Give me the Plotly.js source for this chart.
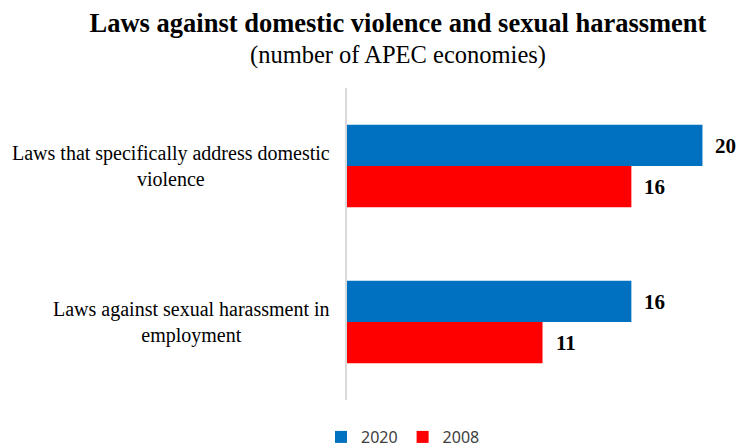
<!DOCTYPE html>
<html>
<head>
<meta charset="utf-8">
<script src="https://cdn.plot.ly/plotly-3.0.1.min.js"></script>
<style>html,body{margin:0;padding:0;background:#fff}#chart{width:738px;height:447px}</style>
</head>
<body>
<div id="chart"></div>
<script>
const categories = ["Laws that specifically address domestic<br>violence", "Laws against sexual harassment in<br>employment"];
const series2020 = [20, 16];
const series2008 = [16, 11];
const seriesNames = ["2020", "2008"];
const colors = ["#0070C0", "#FF0000"];

const SERIF = "Liberation Serif";
const W = 738, H = 447;
const M = {l: 347, r: 0, t: 88, b: 47};
const plotW = W - M.l - M.r, plotH = H - M.t - M.b;

const traces = [
  {type: "bar", orientation: "h", name: seriesNames[0], x: series2020, y: categories,
   marker: {color: colors[0]}, hoverinfo: "x"},
  {type: "bar", orientation: "h", name: seriesNames[1], x: series2008, y: categories,
   marker: {color: colors[1]}, hoverinfo: "x"}
];

const annotations = [];
[series2020, series2008].forEach((vals, si) => {
  vals.forEach((v, i) => {
    annotations.push({
      x: v, y: categories[i], xref: "x", yref: "y",
      text: "<b>" + v + "</b>", showarrow: false, xanchor: "left", yanchor: "middle",
      xshift: 11, yshift: si === 0 ? 20.5 : -20.5,
      font: {family: SERIF, size: 21, color: "#000"}
    });
  });
});
categories.forEach((c, i) => {
  annotations.push({
    x: 0, y: c, xref: "paper", yref: "y", text: c, showarrow: false,
    xanchor: "right", yanchor: "middle", align: "center", xshift: -15,
    font: {family: SERIF, size: 20, color: "#000"}
  });
});
annotations.push({
  x: (398 - M.l) / plotW, y: 1 + (M.t - 55) / plotH, xref: "paper", yref: "paper",
  xanchor: "center", yanchor: "middle",
  text: "(number of APEC economies)", showarrow: false,
  font: {family: SERIF, size: 24.5, color: "#000"}
});

const layout = {
  width: W, height: H,
  margin: M,
  paper_bgcolor: "#fff", plot_bgcolor: "#fff",
  title: {text: "<b>Laws against domestic violence and sexual harassment</b>",
          x: 398 / W, xanchor: "center", xref: "container",
          y: 1 - 23 / H, yanchor: "middle", yref: "container",
          font: {family: SERIF, size: 26.5, color: "#000"}},
  barmode: "group", bargap: 0.47, bargroupgap: 0,
  xaxis: {range: [0, 22], showgrid: false, zeroline: false, showticklabels: false, showline: false, fixedrange: true},
  yaxis: {autorange: "reversed", showgrid: false, zeroline: false, showticklabels: false,
          showline: true, linecolor: "#D9D9D9", linewidth: 2, ticks: "", fixedrange: true},
  showlegend: true,
  legend: {orientation: "h", xref: "container", yref: "container", x: 321 / W, xanchor: "left",
           y: 27 / H, yanchor: "top", font: {family: "Noto Sans", size: 16, color: "#404040"},
           itemwidth: 30, traceorder: "normal", tracegroupgap: 0},
  annotations: annotations
};

Plotly.newPlot("chart", traces, layout, {displayModeBar: false, staticPlot: true});
</script>
</body>
</html>
